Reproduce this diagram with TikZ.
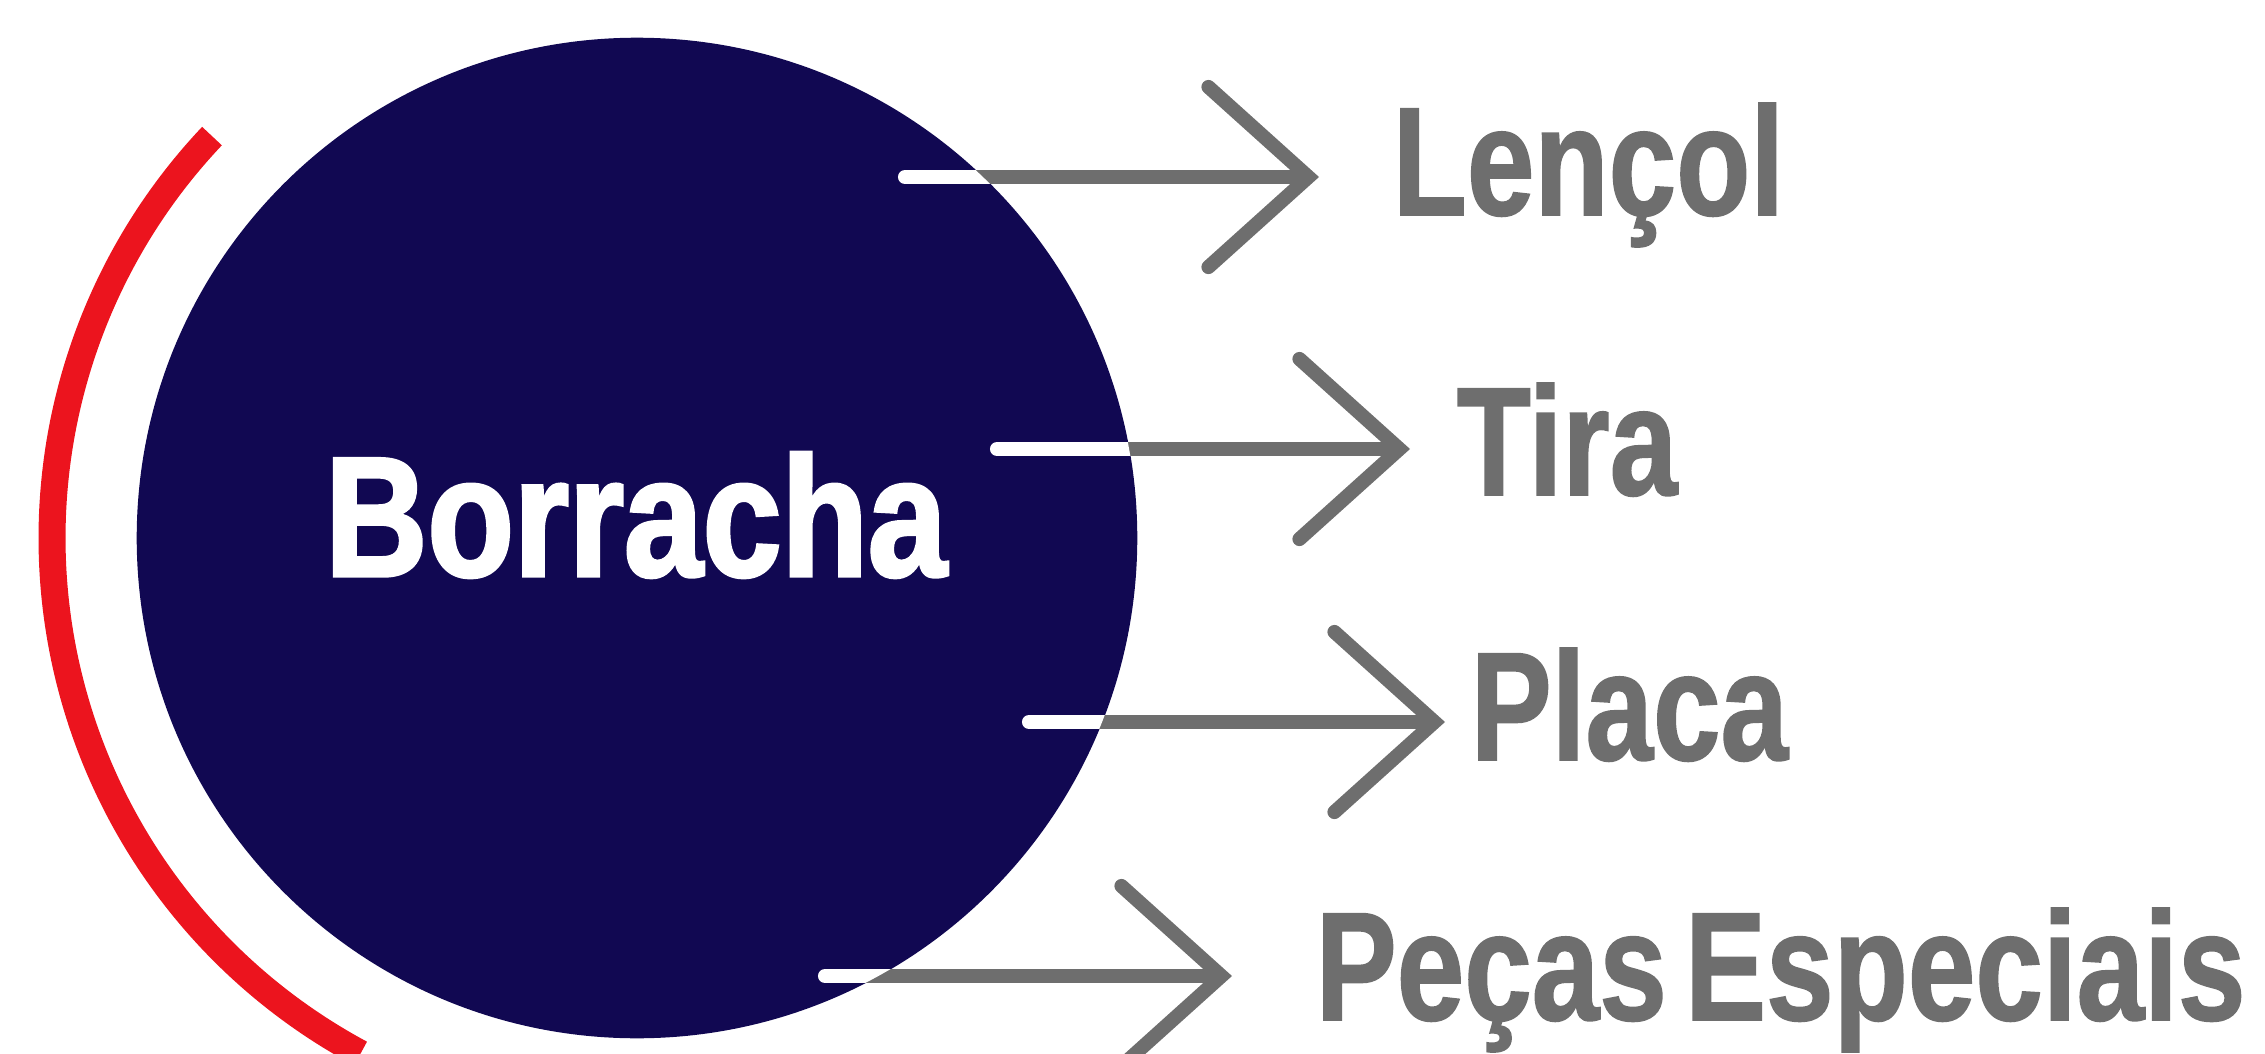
\documentclass[tikz,border=0pt]{standalone}
\usepackage{fontspec}
\setmainfont{Liberation Sans}
\newfontfamily\dinfont[FakeStretch=0.785, FakeBold=1]{Liberation Sans Bold}
\newfontfamily\dinwide[FakeStretch=0.83, FakeBold=2]{Liberation Sans Bold}
\usetikzlibrary{positioning, arrows.meta}
\definecolor{navy}{RGB}{17,8,82}
\definecolor{rubberred}{RGB}{236,20,30}
\definecolor{labelgray}{RGB}{110,110,110}
\tikzset{
    hub/.style={circle, fill=navy, minimum size=10cm, inner sep=0pt},
    title/.style={anchor=base, text=white, inner sep=0pt, font=\dinwide\fontsize{48.5}{52}\selectfont},
    product/.style={anchor=base west, text=labelgray, inner sep=0pt, font=\dinfont\fontsize{44}{48}\selectfont},
    arrow/.style={-{Straight Barb[length=1cm, width=1.8cm, line cap=round]}, line width=4pt, draw=labelgray},
    inside/.style={line width=4pt, draw=white, line cap=round},
    redarc/.style={line width=0.27cm, draw=rubberred}
}

\begin{document}
\begin{tikzpicture}[x=0.01cm, y=0.01cm]
\useasboundingbox (0,0) rectangle (2265,1053);
\clip (0,0) rectangle (2265,1053);

% Rubber circle
\node (hub) [hub] at (637,515) {};
\node (rubber) [title] at (636,477) {Borracha};

% Red arc on the left
\draw[redarc] (hub.center) ++(136.6:585) arc[start angle=136.6, end angle=241.8, radius=585];

% Arrow ends
\coordinate (s1) at (905,876);  \coordinate (e1) at (1319,876);
\coordinate (s2) at (997,604);  \coordinate (e2) at (1410,604);
\coordinate (s3) at (1029,331); \coordinate (e3) at (1445,331);
\coordinate (s4) at (825,77);   \coordinate (e4) at (1232,77);

% Products
\node (sheet) [product] at (1392,838) {Lençol};
\node (strip) [product] at (1456,558) {Tira};
\node (plate) [product] at (1470,293) {Placa};
\node (parts) [product] at (1315,33) {Peças\hspace{-0.1em} Especiais};

% Arrows
\draw[arrow] (s1) -- (e1);
\draw[arrow] (s2) -- (e2);
\draw[arrow] (s3) -- (e3);
\draw[arrow] (s4) -- (e4);

% White part inside the circle
\begin{scope}
\clip (hub.center) circle (500);
\draw[inside] (s1) -- (e1);
\draw[inside] (s2) -- (e2);
\draw[inside] (s3) -- (e3);
\draw[inside] (s4) -- (e4);
\end{scope}

\end{tikzpicture}
\end{document}
